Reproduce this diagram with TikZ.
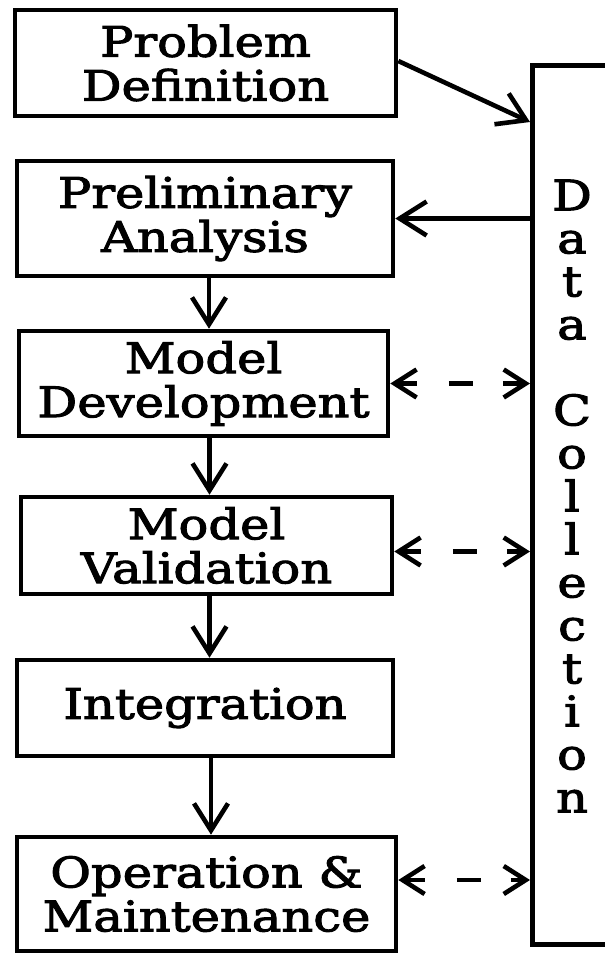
\documentclass[tikz,border=0pt]{standalone}
\usepackage{fontspec}
\setmainfont{DejaVu Serif}[FakeStretch=1.18,FakeBold=2.5]
\usetikzlibrary{arrows.meta}
\begin{document}
\begin{tikzpicture}[x=1pt,y=-1pt,
  box/.style={draw,line width=4.6pt,inner sep=0pt,align=center,font=\fontsize{42}{44}\selectfont},
  flow/.style={line width=4.6pt,-{Straight Barb[length=27pt,width=34pt]}},
  dflow/.style={line width=4.6pt,{Straight Barb[length=22pt,width=28pt]}-{Straight Barb[length=22pt,width=28pt]},dash pattern=on 20pt off 32pt on 24pt off 30pt on 40pt}]
\clip (0,0) rectangle (605,956);
\fill[white] (0,0) rectangle (605,956);
\node[box,minimum width=381pt,minimum height=106pt] (PD) at (205.5,63) {Problem\\Definition};
\node[box,minimum width=376pt,minimum height=115pt] (PA) at (205,218.5) {Preliminary\\Analysis};
\node[box,minimum width=369pt,minimum height=105pt] (MD) at (203.5,383.5) {Model\\Development};
\node[box,minimum width=371pt,minimum height=97pt] (MV) at (206.5,545.5) {Model\\Validation};
\node[box,minimum width=376pt,minimum height=96pt] (IN) at (205,708) {Integration};
\node[box,minimum width=379pt,minimum height=114pt] (OM) at (206.5,894) {Operation \&\\Maintenance};
\node[box,minimum width=84pt,minimum height=879pt,anchor=north west] (DC) at (530,63) {};
\node[align=center,inner sep=0pt,font=\fontsize{42}{43}\selectfont] (DCT) at (572,496)
  {D\\a\\t\\a\\[43pt]C\\o\\l\\l\\e\\c\\t\\i\\o\\n};
\coordinate (mvout) at ([yshift=-6pt]MV.east);
\coordinate (omout) at ([yshift=14pt]OM.east);
\draw[flow] ([yshift=2pt]PD.east) -- ([yshift=-59pt]DC.north west);
\draw[flow] (DC.west |- PA.east) -- (PA.east);
\draw[flow] ([xshift=4pt]PA.south) -- ([xshift=4pt]PA.south |- MD.north);
\draw[flow] ([xshift=6pt]MD.south) -- ([xshift=6pt]MD.south |- MV.north);
\draw[flow] ([xshift=3pt]MV.south) -- ([xshift=3pt]MV.south |- IN.north);
\draw[flow] ([xshift=6pt]IN.south) -- ([xshift=6pt]IN.south |- OM.north);
\draw[dflow] (MD.east) -- (DC.west |- MD.east);
\draw[dflow] (mvout) -- (DC.west |- mvout);
\draw[dflow] (omout) -- (DC.west |- omout);
\end{tikzpicture}
\end{document}
